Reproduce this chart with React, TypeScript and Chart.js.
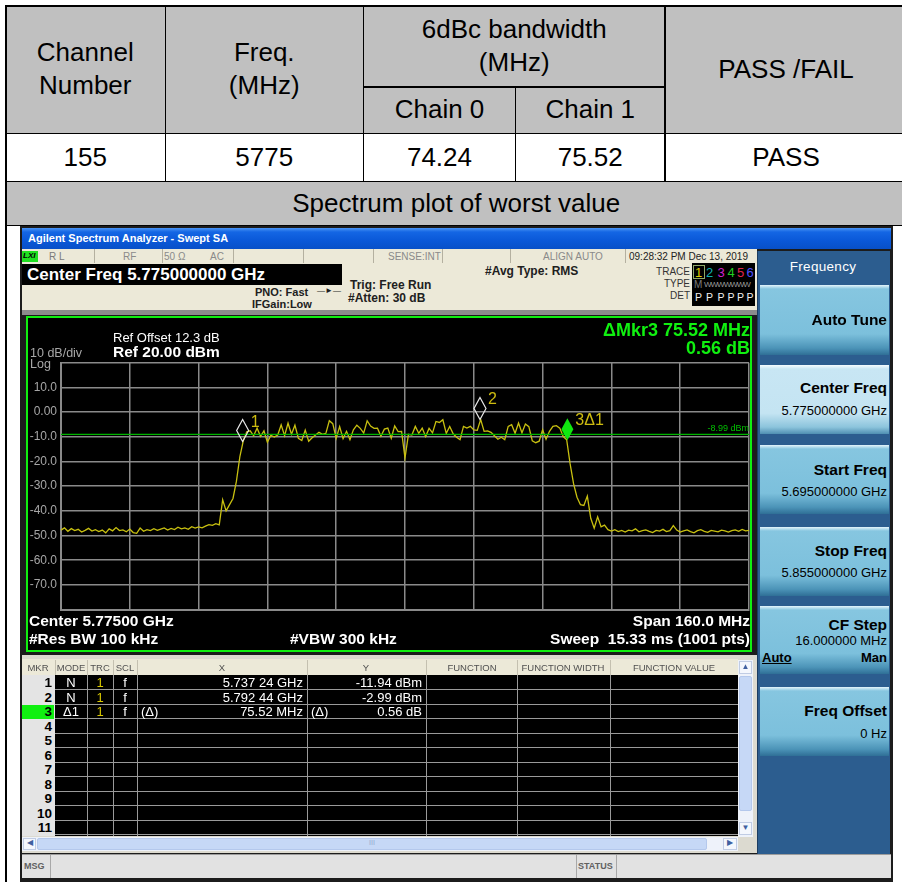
import React, { useEffect, useRef } from 'react';
import { Chart, registerables } from 'chart.js';

Chart.register(...registerables);

// ---------------- data ----------------
const START_MHZ = 5695;
const STOP_MHZ = 5855;
const STEP_MHZ = 0.8;

const TRACE_DBM = [
  -47.8, -46.9, -48.3, -47.2, -48.0, -47.5, -48.6, -47.9, -47.1, -48.2,
  -47.6, -48.4, -47.8, -48.9, -47.3, -48.1, -46.8, -48.0, -47.7, -48.5,
  -47.4, -48.8, -49.1, -47.0, -48.3, -47.6, -48.0, -47.2, -47.9, -47.4,
  -46.9, -47.8, -47.1, -47.6, -46.6, -47.3, -46.9, -47.5, -46.4, -47.0,
  -46.5, -46.9, -46.2, -45.6, -45.9, -45.2,
  -45.7, -35.5, -40.0, -37.5, -35.0, -28.0, -18.0, -11.6,
  -8.0, -7.6, -9.6, -6.5, -9.8, -7.6, -12.2, -9.4, -10.1, -9.3,
  -5.2, -9.6, -4.5, -9.0, -5.3, -10.6, -11.5, -7.3, -11.8, -10.4,
  -9.3, -8.2, -9.0, -8.6, -3.5, -4.7, -10.6, -5.9, -10.8, -7.8,
  -11.2, -7.2, -5.3, -6.6, -8.5, -3.5, -5.7, -6.6, -6.5, -9.8,
  -6.9, -6.5, -10.6, -5.6, -7.9, -7.8, -18.6, -9.0, -9.3, -5.8,
  -8.6, -6.5, -9.9, -6.6, -8.4, -3.8, -4.2, -3.1, -8.6, -5.8,
  -8.8, -10.2, -11.2, -5.8, -6.5, -5.8, -7.2, -7.4, -3.0, -7.8,
  -7.6, -8.2, -9.6, -11.0, -10.2, -11.2, -5.8, -5.1, -8.6, -4.4,
  -8.4, -4.8, -5.9, -11.6, -12.4, -11.8, -7.2, -11.0, -7.8, -5.8,
  -5.5, -6.5, -9.9, -11.2,
  -21.0, -29.0, -34.5, -37.5, -37.8, -34.0, -43.0, -47.0, -42.4, -46.5, -45.8, -47.6,
  -48.2, -47.6, -48.4, -47.9, -48.6, -47.8, -48.1, -47.3, -48.5, -48.0,
  -47.7, -48.3, -48.8, -47.9, -48.2, -47.5, -48.4, -48.0, -46.0, -47.8,
  -48.6, -48.1, -47.7, -48.4, -48.9, -48.0, -47.6, -48.3, -48.7, -47.9,
  -48.2, -48.5, -47.8, -48.1, -48.6, -48.0, -47.7, -48.3, -47.5, -48.1,
  -47.9,
];

const X_GRID_MHZ = [5695, 5711, 5727, 5743, 5759, 5775, 5791, 5807, 5823, 5839, 5855];
const Y_GRID_DBM = [-80, -70, -60, -50, -40, -30, -20, -10, 0, 10, 20];
const Y_TICK_LABELS = ['', '-70.0', '-60.0', '-50.0', '-40.0', '-30.0', '-20.0', '-10.0', '0.00', '10.0', ''];

const DISPLAY_LINE_DBM = -8.99;
const DISPLAY_LINE_LABEL = '-8.99 dBm';

const MARKER_MHZ = [5737.24, 5792.44, 5812.76];
const MARKER_DBM = [-11.94, -2.99, -11.38];
const MARKER_LABELS = ['1', '2', '3Δ1'];

const MKR_MODE = ['N', 'N', 'Δ1'];
const MKR_TRC = ['1', '1', '1'];
const MKR_SCL = ['f', 'f', 'f'];
const MKR_XPRE = ['', '', '(Δ)'];
const MKR_X = ['5.737 24 GHz', '5.792 44 GHz', '75.52 MHz'];
const MKR_YPRE = ['', '', '(Δ)'];
const MKR_Y = ['-11.94 dBm', '-2.99 dBm', '0.56 dB'];

const TABLE_CHANNEL = '155';
const TABLE_FREQ = '5775';
const TABLE_CHAIN0 = '74.24';
const TABLE_CHAIN1 = '75.52';
const TABLE_RESULT = 'PASS';

// ---------------- helpers ----------------
const W = 902;
const SANS = '"Liberation Sans", Arial, sans-serif';

type TP = {
  x?: number; r?: number; cx?: number; cap: number; size: number; bold?: boolean;
  color?: string; style?: React.CSSProperties; children: React.ReactNode;
};
function Tx({ x, r, cx, cap, size, bold, color = '#000', style, children }: TP) {
  const s: React.CSSProperties = {
    position: 'absolute', top: cap - 0.13 * size, fontSize: size, lineHeight: `${size}px`,
    fontWeight: bold ? 700 : 400, color, fontFamily: SANS, whiteSpace: 'pre', zIndex: 3, ...style,
  };
  if (x !== undefined) s.left = x;
  if (r !== undefined) s.right = W - r;
  if (cx !== undefined) { s.left = cx; s.transform = 'translateX(-50%)'; }
  return <div style={s}>{children}</div>;
}

function Box({ l, t, w, h, bg, style, children }: { l: number; t: number; w: number; h: number; bg?: string; style?: React.CSSProperties; children?: React.ReactNode }) {
  return <div style={{ position: 'absolute', left: l, top: t, width: w, height: h, background: bg, boxSizing: 'border-box', ...style }}>{children}</div>;
}

function Cell({ l, t, w, h, bg, children }: { l: number; t: number; w: number; h: number; bg: string; children: React.ReactNode }) {
  return (
    <div style={{
      position: 'absolute', left: l, top: t, width: w, height: h, background: bg, display: 'flex',
      alignItems: 'center', justifyContent: 'center', textAlign: 'center', fontFamily: SANS,
      fontSize: 26, lineHeight: '33px', color: '#000',
    }}>{children}</div>
  );
}

// ---------------- chart ----------------
function SpectrumPlot() {
  const ref = useRef<HTMLCanvasElement | null>(null);
  useEffect(() => {
    if (!ref.current) return;
    const gridColor = '#8a8a8a';
    const markerPlugin = {
      id: 'mkrs',
      afterDatasetsDraw(chart: any) {
        const { ctx, chartArea } = chart;
        const xs = chart.scales.x;
        const ys = chart.scales.y;
        ctx.save();
        const ly = ys.getPixelForValue(DISPLAY_LINE_DBM);
        ctx.font = '9px "Liberation Sans"';
        ctx.fillStyle = '#00c000';
        ctx.textAlign = 'right';
        ctx.textBaseline = 'bottom';
        ctx.fillText(DISPLAY_LINE_LABEL, chartArea.right, ly - 1);
        MARKER_MHZ.forEach((f, i) => {
          const px = xs.getPixelForValue(f);
          const py = ys.getPixelForValue(MARKER_DBM[i]);
          const hw = 6, h = 22;
          ctx.beginPath();
          ctx.moveTo(px, py);
          ctx.lineTo(px + hw, py - h / 2);
          ctx.lineTo(px, py - h);
          ctx.lineTo(px - hw, py - h / 2);
          ctx.closePath();
          if (i === 2) {
            ctx.fillStyle = '#10e810';
            ctx.fill();
          } else {
            ctx.strokeStyle = '#e8e8e8';
            ctx.lineWidth = 1.2;
            ctx.stroke();
          }
          ctx.fillStyle = '#cdbb10';
          ctx.font = '16px "Liberation Sans"';
          ctx.textAlign = 'left';
          ctx.textBaseline = 'alphabetic';
          ctx.fillText(MARKER_LABELS[i], px + 8, py - 15);
        });
        ctx.restore();
      },
    };
    const chart = new Chart(ref.current, {
      type: 'line',
      data: {
        datasets: [
          {
            data: [{ x: START_MHZ, y: DISPLAY_LINE_DBM }, { x: STOP_MHZ, y: DISPLAY_LINE_DBM }],
            borderColor: '#00b400', borderWidth: 1.2, pointRadius: 0,
          },
          {
            data: TRACE_DBM.map((v, i) => ({ x: START_MHZ + i * STEP_MHZ, y: v })),
            borderColor: '#c8c010', borderWidth: 1.3, pointRadius: 0, tension: 0,
          },
        ],
      },
      options: {
        animation: false,
        responsive: false,
        events: [],
        layout: { padding: { left: 0, top: 46.7, right: 3, bottom: 42.4 } },
        plugins: { legend: { display: false }, tooltip: { enabled: false } },
        scales: {
          x: {
            type: 'linear', min: START_MHZ, max: STOP_MHZ,
            afterBuildTicks: (s: any) => { s.ticks = X_GRID_MHZ.map((v) => ({ value: v })); },
            afterFit: (s: any) => { s.height = 0; },
            ticks: { display: false },
            grid: { color: gridColor, lineWidth: 1.5, drawTicks: false },
            border: { display: true, color: gridColor, width: 2 },
          },
          y: {
            type: 'linear', min: -80, max: 20,
            afterBuildTicks: (s: any) => { s.ticks = Y_GRID_DBM.map((v) => ({ value: v })); },
            afterFit: (s: any) => { s.width = 35; },
            ticks: {
              color: '#a6a6a6', padding: 4, font: { family: 'Liberation Sans', size: 12 },
              callback: (v: any) => Y_TICK_LABELS[Y_GRID_DBM.indexOf(Number(v))] ?? '',
            },
            grid: { color: gridColor, lineWidth: 1.5, drawTicks: false },
            border: { display: true, color: gridColor, width: 2 },
          },
        },
      } as any,
      plugins: [markerPlugin],
    });
    return () => chart.destroy();
  }, []);
  return <canvas ref={ref} width={726} height={336} style={{ position: 'absolute', left: 26, top: 316, zIndex: 2 }} />;
}

// ---------------- page ----------------
const BTN = 'linear-gradient(to bottom, #e4f4fb 0px, #86c6e0 4px, #7cc0dc 70%, #4c94b8 90%, #2f6f96 100%)';
const BTN_SEL = 'linear-gradient(to bottom, #f4fbfe 0px, #c8e6f4 4px, #c4e4f2 70%, #8cc4dc 90%, #4f8fb2 100%)';

function Btn({ t, h, sel, title, value, titleCap, valueCap }: { t: number; h: number; sel?: boolean; title: string; value?: string; titleCap: number; valueCap?: number }) {
  return (
    <>
      <Box l={760} t={t} w={129} h={h} bg={sel ? BTN_SEL : BTN} style={{ zIndex: 2 }} />
      <Tx r={887} cap={titleCap} size={15.5} bold>{title}</Tx>
      {value ? <Tx r={887} cap={valueCap!} size={13}>{value}</Tx> : null}
    </>
  );
}

export default function App() {
  const line = '#000';
  const rowTop = (k: number) => 675.5 + 14.5 * k;
  const colX = [54.5, 87, 112.5, 137, 307, 426, 517, 610, 738];
  const headLabels: [string, number][] = [
    ['MKR', 38], ['MODE', 71], ['TRC', 100], ['SCL', 125], ['X', 222], ['Y', 366],
    ['FUNCTION', 472], ['FUNCTION WIDTH', 563], ['FUNCTION VALUE', 674],
  ];
  const traceDigits: [string, string, number][] = [
    ['1', '#e0d000', 695], ['2', '#10b0b0', 706], ['3', '#d020d0', 717.5],
    ['4', '#20d020', 727.5], ['5', '#e02050', 737], ['6', '#5050ff', 746.5],
  ];
  return (
    <div style={{ position: 'fixed', left: 0, top: 0, width: W, height: 882, overflow: 'hidden', background: '#fff', fontFamily: SANS }}>
      {/* ---------- table ---------- */}
      <Cell l={5.5} t={5.5} w={159.5} h={127.5} bg="#c0c0c0">Channel<br />Number</Cell>
      <Cell l={165} t={5.5} w={198.5} h={127.5} bg="#c0c0c0">Freq.<br />(MHz)</Cell>
      <Cell l={363.5} t={5.5} w={301.5} h={81} bg="#c0c0c0">6dBc bandwidth<br />(MHz)</Cell>
      <Cell l={363.5} t={86.5} w={152} h={46.5} bg="#c0c0c0">Chain 0</Cell>
      <Cell l={515.5} t={86.5} w={149.5} h={46.5} bg="#c0c0c0">Chain 1</Cell>
      <Cell l={665} t={5.5} w={242} h={127.5} bg="#c0c0c0">PASS /FAIL</Cell>
      <Cell l={5.5} t={133} w={159.5} h={48} bg="#fff">{TABLE_CHANNEL}</Cell>
      <Cell l={165} t={133} w={198.5} h={48} bg="#fff">{TABLE_FREQ}</Cell>
      <Cell l={363.5} t={133} w={152} h={48} bg="#fff">{TABLE_CHAIN0}</Cell>
      <Cell l={515.5} t={133} w={149.5} h={48} bg="#fff">{TABLE_CHAIN1}</Cell>
      <Cell l={665} t={133} w={242} h={48} bg="#fff">{TABLE_RESULT}</Cell>
      <Cell l={5.5} t={181} w={901.5} h={44} bg="#c0c0c0">Spectrum plot of worst value</Cell>
      {/* table lines */}
      <Box l={5} t={5} w={910} h={1.5} bg={line} />
      <Box l={363} t={86} w={302.5} h={1.5} bg={line} />
      <Box l={5} t={132.5} w={910} h={1.5} bg={line} />
      <Box l={5} t={180.5} w={910} h={1.5} bg={line} />
      <Box l={5} t={224.5} w={910} h={1.5} bg={line} />
      <Box l={5} t={5} w={1.5} h={880} bg={line} />
      <Box l={164.5} t={5} w={1.5} h={177} bg={line} />
      <Box l={362.8} t={5} w={1.5} h={177} bg={line} />
      <Box l={514.8} t={86} w={1.5} h={96} bg={line} />
      <Box l={664.3} t={5} w={1.5} h={177} bg={line} />

      {/* ---------- analyzer screenshot ---------- */}
      <Box l={20} t={226} w={873} h={656} bg="#1c1c1c" />
      <Box l={22} t={228} w={869} h={21} bg="linear-gradient(to bottom, #4a94f4 0px, #1466e4 4px, #0a58d8 60%, #0850c8 100%)" />
      <Tx x={28} cap={234} size={11} bold color="#fff">Agilent Spectrum Analyzer - Swept SA</Tx>

      {/* status row */}
      <Box l={22} t={249} w={735} h={14} bg="#ece9d8" />
      {[94, 161.7, 233, 302.7, 372.7, 441.7, 510, 625].map((x) => (
        <Box key={x} l={x} t={249} w={1} h={14} bg="#b4b0a0" style={{ zIndex: 2 }} />
      ))}
      <Box l={22} t={251} w={16} h={11} bg="#20e020" style={{ zIndex: 2 }} />
      <Tx x={23} cap={253} size={8} bold color="#000" style={{ fontStyle: 'italic' }}>LXI</Tx>
      <Tx x={49} cap={253} size={10} color="#7a7a7a">R L</Tx>
      <Tx x={123} cap={253} size={10} color="#8a8a8a">RF</Tx>
      <Tx x={164} cap={253} size={10} color="#8a8a8a">50 Ω</Tx>
      <Tx x={210} cap={253} size={10} color="#8a8a8a">AC</Tx>
      <Tx x={388} cap={253} size={10} color="#8a8a8a">SENSE:INT</Tx>
      <Tx x={543} cap={253} size={10} color="#8a8a8a">ALIGN AUTO</Tx>
      <Tx x={629} cap={253} size={10} color="#222">09:28:32 PM Dec 13, 2019</Tx>

      {/* header */}
      <Box l={22} t={263} w={735} h={48} bg="#ece9d8" />
      <Box l={22} t={310} w={735} h={5} bg="#8c8c8c" />
      <Box l={22} t={264} w={320} h={21} bg="#000" style={{ zIndex: 2 }} />
      <Tx x={27} cap={268} size={17} bold color="#fff">Center Freq 5.775000000 GHz</Tx>
      <Tx x={255} cap={288} size={11} bold color="#202020">PNO: Fast</Tx>
      <Tx x={317} cap={288} size={8} color="#202020">—►—</Tx>
      <Tx x={252} cap={300} size={11} bold color="#202020">IFGain:Low</Tx>
      <Tx x={350} cap={281} size={12} bold color="#202020">Trig: Free Run</Tx>
      <Tx x={348} cap={294} size={12} bold color="#202020">#Atten: 30 dB</Tx>
      <Tx x={485} cap={267} size={12} bold color="#202020">#Avg Type: RMS</Tx>
      <Tx r={690} cap={268} size={10} color="#333">TRACE</Tx>
      <Tx r={690} cap={280} size={10} color="#333">TYPE</Tx>
      <Tx r={690} cap={292} size={10} color="#333">DET</Tx>
      <Box l={692} t={263} w={63} h={43} bg="#000" style={{ zIndex: 2 }} />
      <Box l={693} t={265} w={12} h={14} style={{ border: '1px solid #8fa868', zIndex: 3 }} />
      {traceDigits.map(([d, c, x]) => (
        <Tx key={d} x={x} cap={268} size={13} color={c}>{d}</Tx>
      ))}
      <Tx x={694} cap={281} size={10} color="#7a7a7a">M</Tx>
      <Tx x={704} cap={282} size={8} color="#9a9a9a" style={{ letterSpacing: -1 }}>WWWWWWW</Tx>
      {traceDigits.map(([d, , x]) => (
        <Tx key={'p' + d} x={x} cap={293} size={10.5} color="#f0f0f0">P</Tx>
      ))}

      {/* plot box */}
      <Box l={26} t={316} w={726} h={336} bg="#000" style={{ border: '2px solid #10f010' }} />
      <SpectrumPlot />
      <Tx x={113} cap={333} size={13} color="#fff">Ref Offset 12.3 dB</Tx>
      <Tx x={113} cap={346} size={15.5} bold color="#fff">Ref 20.00 dBm</Tx>
      <Tx x={30} cap={349} size={12.5} color="#a8a8a8">10 dB/div</Tx>
      <Tx x={30} cap={360} size={12.5} color="#a8a8a8">Log</Tx>
      <Tx r={750} cap={323} size={18} bold color="#10f010">ΔMkr3 75.52 MHz</Tx>
      <Tx r={750} cap={341} size={18} bold color="#10f010">0.56 dB</Tx>
      <Tx x={29} cap={615} size={15.5} bold color="#fff">Center 5.77500 GHz</Tx>
      <Tx x={29} cap={633} size={15.5} bold color="#fff">#Res BW 100 kHz</Tx>
      <Tx x={290} cap={633} size={15.5} bold color="#fff">#VBW 300 kHz</Tx>
      <Tx r={750} cap={615} size={15.5} bold color="#fff">Span 160.0 MHz</Tx>
      <Tx r={750} cap={633} size={15.5} bold color="#fff">Sweep  15.33 ms (1001 pts)</Tx>

      {/* marker table */}
      <Box l={22} t={655} w={735} h={198} bg="#dcdad0" />
      <Box l={22} t={659} w={716} h={16} bg="#ece9d8" style={{ zIndex: 2 }} />
      {colX.map((x) => (
        <Box key={'hc' + x} l={x} t={660} w={1} h={15} bg="#c4c0b0" style={{ zIndex: 2 }} />
      ))}
      {headLabels.map(([s, c]) => (
        <Tx key={s} cx={c} cap={664} size={9.5} color="#505050">{s}</Tx>
      ))}
      <Box l={22} t={675} w={33} h={161} bg="#e4e4e4" style={{ zIndex: 2 }} />
      <Box l={54.5} t={675} w={683.5} h={161} bg="#000" style={{ zIndex: 2 }} />
      <Box l={22} t={rowTop(2)} w={32} h={14.5} bg="#10f010" style={{ zIndex: 2 }} />
      {Array.from({ length: 11 }, (_, k) => (
        <React.Fragment key={'r' + k}>
          <Box l={54.5} t={rowTop(k) + 13.5} w={683.5} h={1} bg="#9a9a9a" style={{ zIndex: 2 }} />
          <Tx r={52} cap={rowTop(k) + 2.5} size={13.5} bold color="#000">{String(k + 1)}</Tx>
        </React.Fragment>
      ))}
      {colX.slice(1).map((x) => (
        <Box key={'vc' + x} l={x} t={675} w={1} h={161} bg="#9a9a9a" style={{ zIndex: 2 }} />
      ))}
      {MKR_MODE.map((m, k) => (
        <React.Fragment key={'m' + k}>
          <Tx cx={71} cap={rowTop(k) + 2.5} size={13} color="#fff">{m}</Tx>
          <Tx cx={100} cap={rowTop(k) + 2.5} size={13} color="#d8c800">{MKR_TRC[k]}</Tx>
          <Tx cx={125} cap={rowTop(k) + 2.5} size={13} color="#fff">{MKR_SCL[k]}</Tx>
          <Tx x={141} cap={rowTop(k) + 2.5} size={13} color="#fff">{MKR_XPRE[k]}</Tx>
          <Tx r={303} cap={rowTop(k) + 2.5} size={13} color="#fff">{MKR_X[k]}</Tx>
          <Tx x={311} cap={rowTop(k) + 2.5} size={13} color="#fff">{MKR_YPRE[k]}</Tx>
          <Tx r={422} cap={rowTop(k) + 2.5} size={13} color="#fff">{MKR_Y[k]}</Tx>
        </React.Fragment>
      ))}
      {/* vertical scrollbar */}
      <Box l={738} t={660} w={15} h={177} bg="#eef2fa" style={{ zIndex: 2 }} />
      <Box l={739} t={661} w={13} h={13} bg="#f4f7fd" style={{ zIndex: 2, border: '1px solid #c0cce4' }} />
      <Tx cx={745.5} cap={664} size={8} color="#4060a0">▲</Tx>
      <Box l={739} t={676} w={13} h={135} bg="#c6d8f6" style={{ zIndex: 2, borderRadius: 2, border: '1px solid #b4c8ec' }} />
      <Box l={739} t={822} w={13} h={13} bg="#f4f7fd" style={{ zIndex: 2, border: '1px solid #c0cce4' }} />
      <Tx cx={745.5} cap={825} size={8} color="#4060a0">▼</Tx>
      {/* horizontal scrollbar */}
      <Box l={22} t={837} w={716} h={14} bg="#eef2fa" style={{ zIndex: 2 }} />
      <Box l={23} t={838} w={13} h={12} bg="#f4f7fd" style={{ zIndex: 2, border: '1px solid #c0cce4' }} />
      <Tx cx={29.5} cap={840} size={8} color="#4060a0">◀</Tx>
      <Box l={37} t={838} w={670} h={12} bg="#c6d8f6" style={{ zIndex: 2, borderRadius: 2, border: '1px solid #b4c8ec' }} />
      <Tx cx={372} cap={840} size={7} color="#90a8d0">III</Tx>
      <Box l={723} t={838} w={14} h={12} bg="#f4f7fd" style={{ zIndex: 2, border: '1px solid #c0cce4' }} />
      <Tx cx={730} cap={840} size={8} color="#4060a0">▶</Tx>

      {/* message bar */}
      <Box l={22} t={854} w={869} h={24} bg="#e2e2e2" style={{ borderTop: '1px solid #9c9c9c', zIndex: 2 }} />
      <Box l={50} t={855} w={1} h={23} bg="#a8a8a8" style={{ zIndex: 3 }} />
      <Box l={576} t={855} w={1} h={23} bg="#a8a8a8" style={{ zIndex: 3 }} />
      <Box l={616} t={855} w={1} h={23} bg="#a8a8a8" style={{ zIndex: 3 }} />
      <Tx x={24} cap={863} size={9} bold color="#606060">MSG</Tx>
      <Tx x={578} cap={863} size={9} bold color="#606060">STATUS</Tx>

      {/* right softkey panel */}
      <Box l={757} t={251} w={133} h={603} bg="#2c5d8f" style={{ borderLeft: '1px solid #1c3c60' }} />
      <Tx cx={823} cap={262} size={13.5} color="#fff" style={{ letterSpacing: 0.3 }}>Frequency</Tx>
      <Btn t={285} h={70} title="Auto Tune" titleCap={314} />
      <Btn t={365} h={69} sel title="Center Freq" value="5.775000000 GHz" titleCap={382.5} valueCap={406} />
      <Btn t={445} h={69} title="Start Freq" value="5.695000000 GHz" titleCap={464} valueCap={486.5} />
      <Btn t={527} h={69} title="Stop Freq" value="5.855000000 GHz" titleCap={545.5} valueCap={567.5} />
      <Btn t={606} h={68} title="CF Step" value="16.000000 MHz" titleCap={619.5} valueCap={636} />
      <Tx x={762} cap={653} size={13} bold color="#000" style={{ textDecoration: 'underline' }}>Auto</Tx>
      <Tx r={887} cap={653} size={13} bold color="#000">Man</Tx>
      <Btn t={687} h={69} title="Freq Offset" value="0 Hz" titleCap={705} valueCap={729} />
    </div>
  );
}
